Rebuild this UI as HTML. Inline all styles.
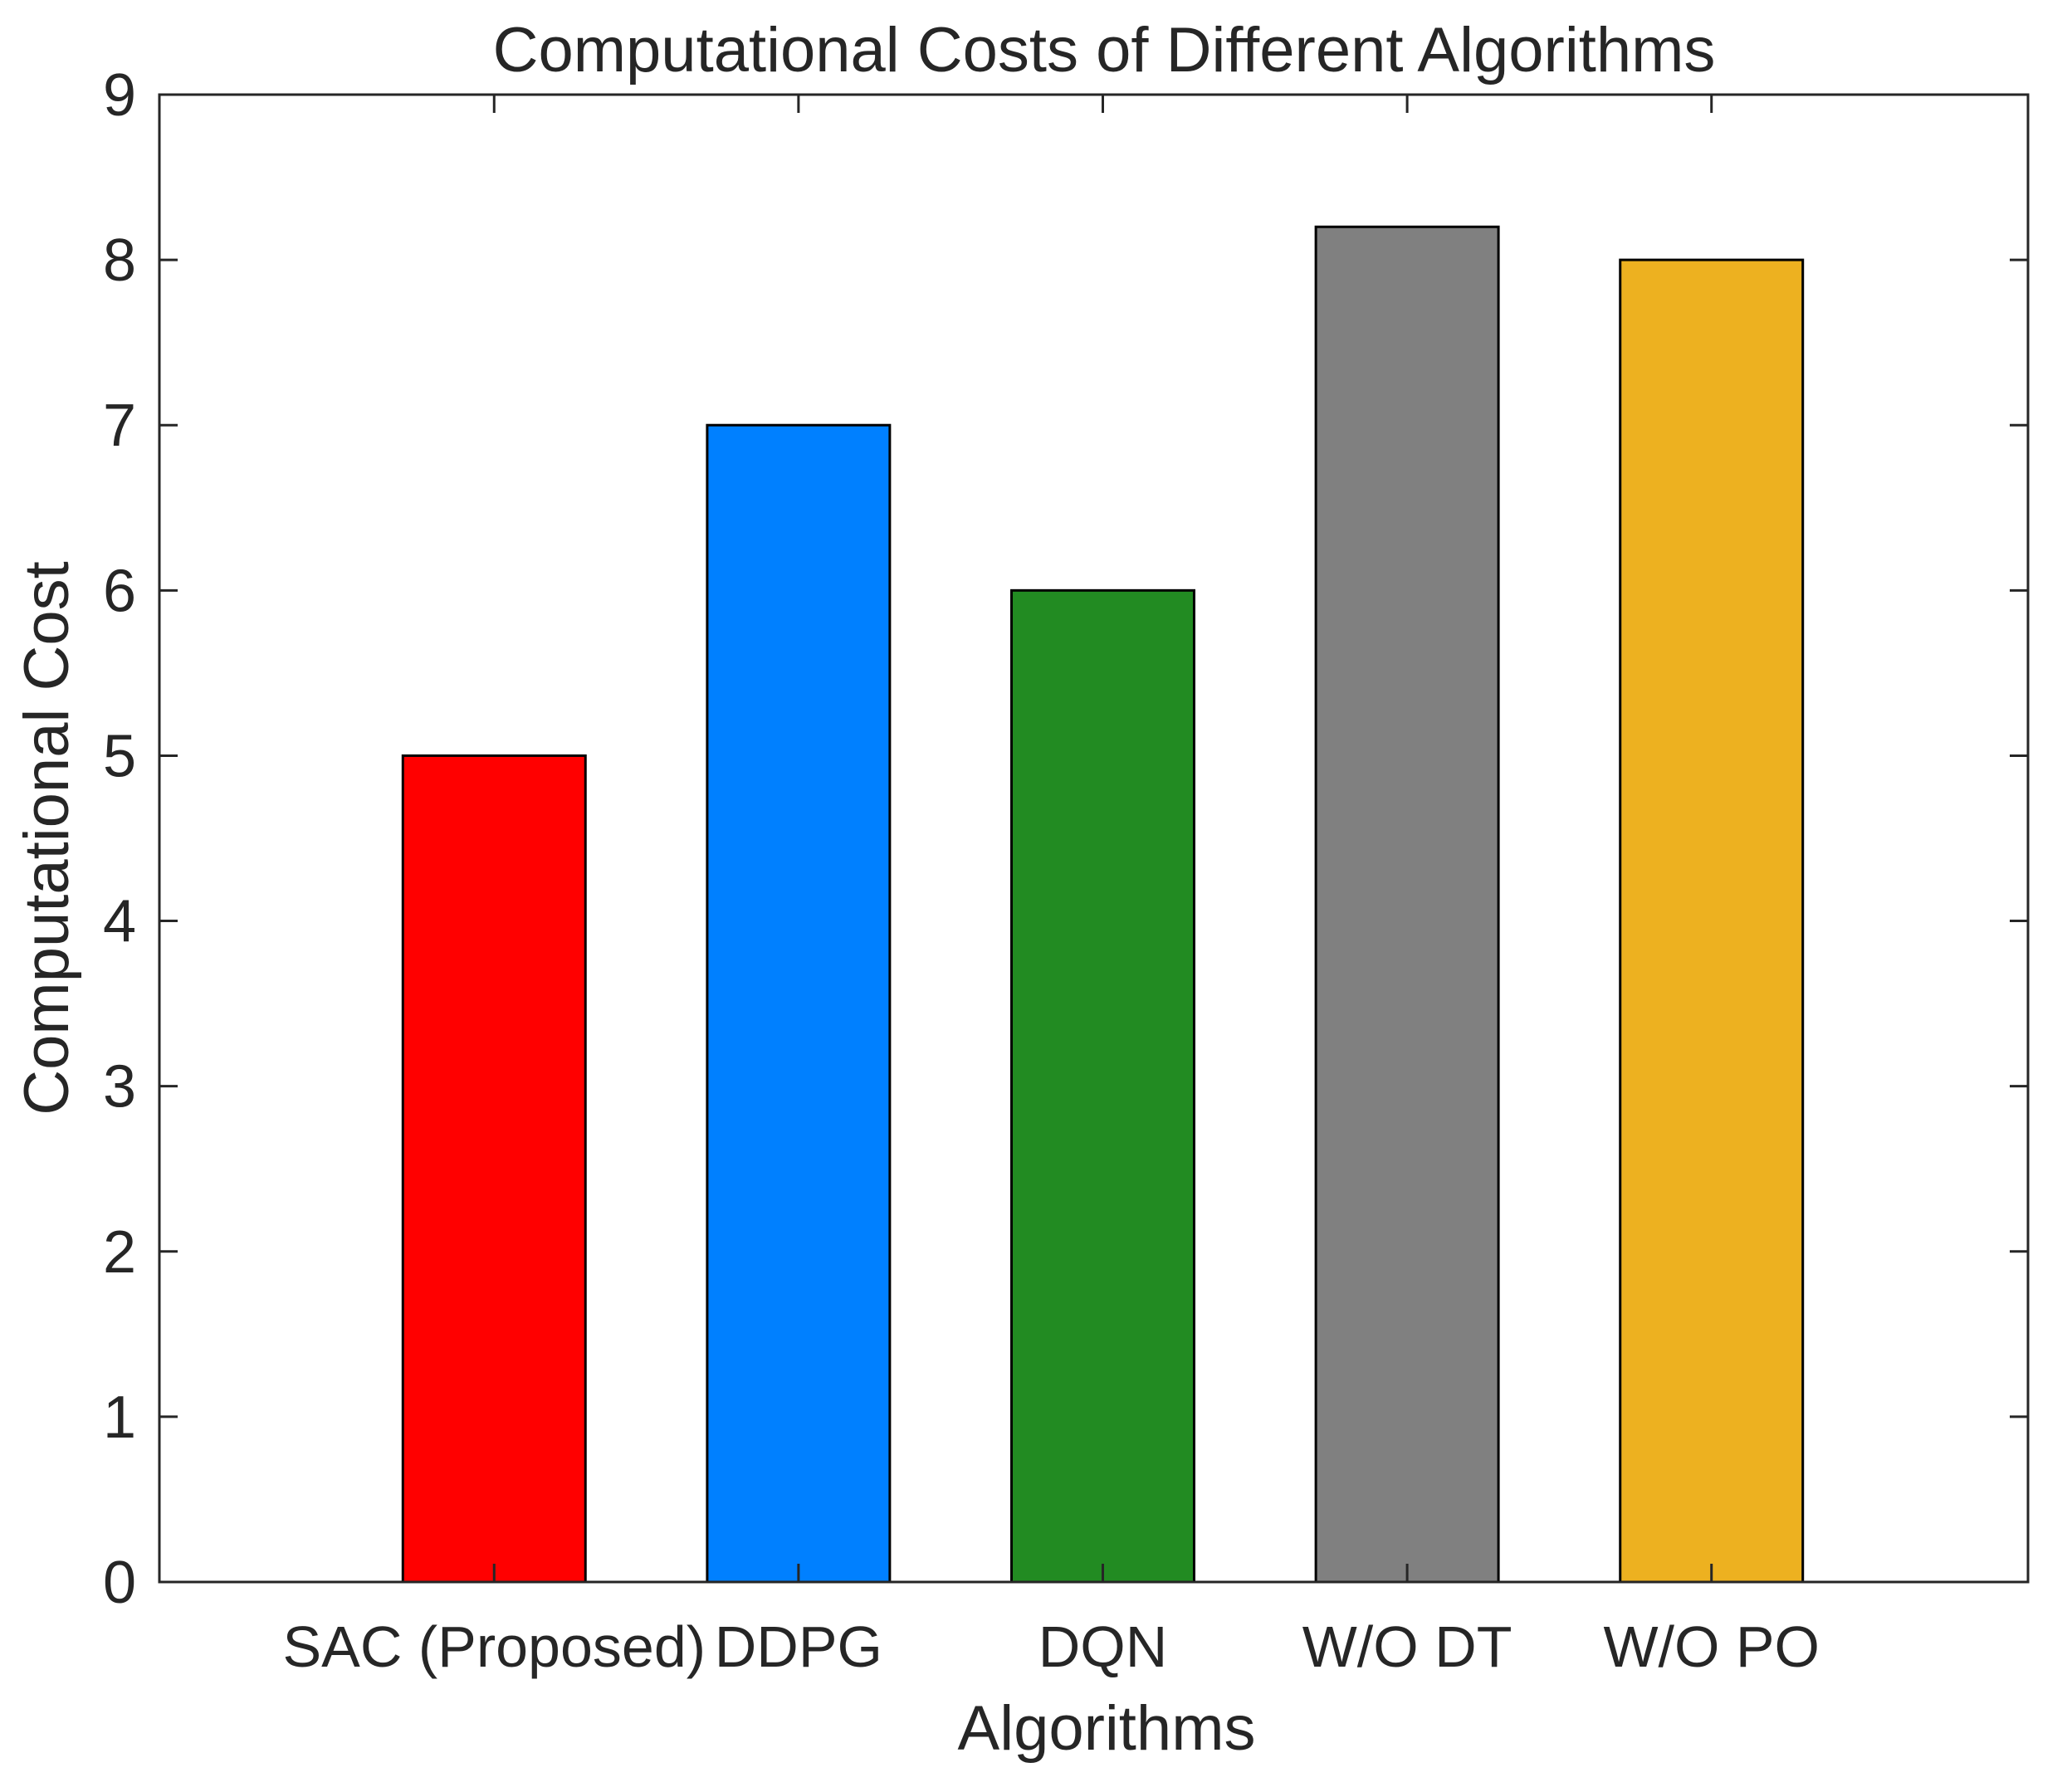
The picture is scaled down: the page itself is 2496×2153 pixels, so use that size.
<!DOCTYPE html>
<html><head><meta charset="utf-8"><style>
body{margin:0;background:#fff}
svg text{font-family:"Liberation Sans",Arial,sans-serif;fill:#262626}
</style></head><body>
<svg width="2496" height="2148" viewBox="0 0 2496 2148" id="c">
<rect width="2496" height="2148" fill="#fff"/>
<text x="1330" y="86" font-size="76" text-anchor="middle">Computational Costs of Different Algorithms</text>
<text x="1333" y="2108" font-size="76" text-anchor="middle">Algorithms</text>
<text transform="translate(82,1010) rotate(-90)" font-size="76" text-anchor="middle">Computational Cost</text>
<g id="marks"></g>
</svg>
<script>
const categories=["SAC (Proposed)","DDPG","DQN","W/O DT","W/O PO"];
const values=[5,7,6,8.2,8];
const colors=["#ff0000","#0080ff","#228b22","#808080","#edb120"];
const yTicks=[0,1,2,3,4,5,6,7,8,9];
const L=192,R=2443,T=114,B=1906;
const NS="http://www.w3.org/2000/svg";
const g=document.getElementById('marks');
const sp=(R-L)/6.14;
function xs(i){return L+(i+1.1)*sp;}
function ys(v){return B-(v/9)*(B-T);}
function el(t,a){const e=document.createElementNS(NS,t);for(const k in a)e.setAttribute(k,a[k]);g.appendChild(e);return e;}
categories.forEach((c,i)=>{
 const w=sp*0.6;
 const r=el('rect',{x:xs(i)-w/2,y:ys(values[i]),width:w,height:B-ys(values[i]),fill:colors[i],stroke:'#000','stroke-width':3});
 
 
 const t=el('text',{x:xs(i),y:2008,'font-size':70,'text-anchor':'middle'});
 t.textContent=c;
 
 
 const tk=el('path',{d:`M${xs(i)} ${B}v-22M${xs(i)} ${T}v22`,stroke:'#262626','stroke-width':3});
 
 
});
yTicks.forEach(v=>{
 const y=ys(v);
 const tk=el('path',{d:`M${L} ${y}h22M${R} ${y}h-22`,stroke:'#262626','stroke-width':3});
 
 
 const t=el('text',{x:164,y:y+25,'font-size':72,'text-anchor':'end'});
 t.textContent=v;
 
 
});
const box=el('rect',{x:L,y:T,width:R-L,height:B-T,fill:'none',stroke:'#262626','stroke-width':3});


</script>
</body></html>
